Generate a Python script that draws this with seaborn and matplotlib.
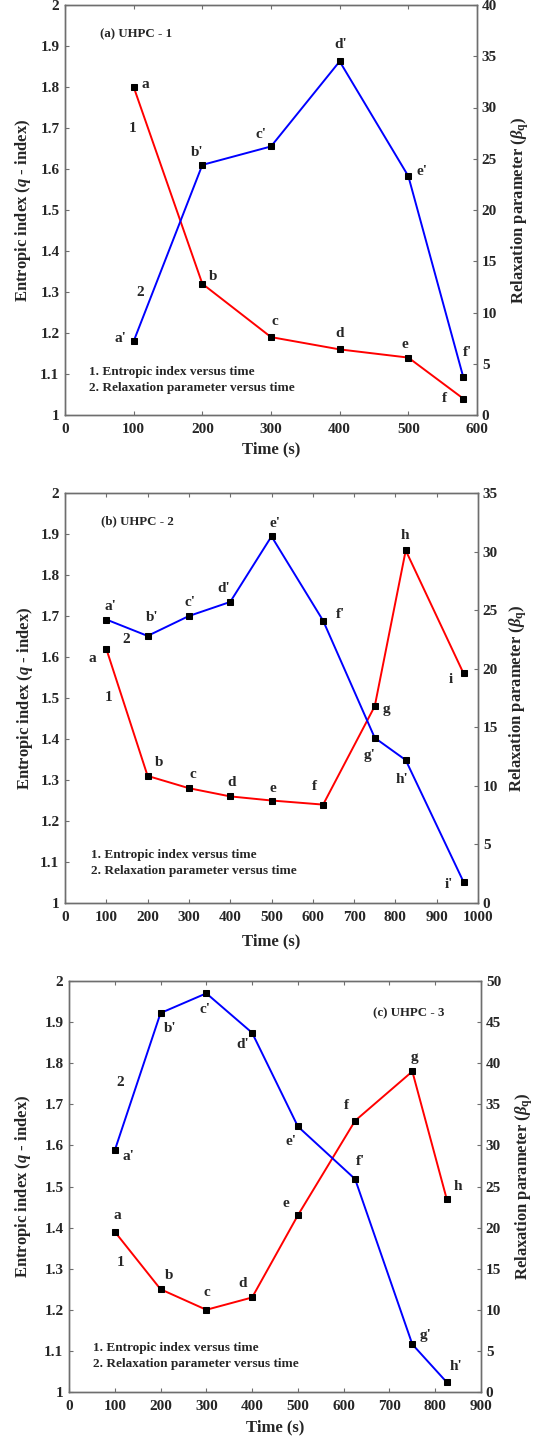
import matplotlib
matplotlib.use("Agg")
import matplotlib.pyplot as plt
import seaborn as sns
from matplotlib.ticker import FuncFormatter, MultipleLocator

# ---------------- data ----------------
# Panel (a) UHPC - 1
a_time = [100, 200, 300, 400, 500, 580]
a_q = [1.80, 1.32, 1.19, 1.16, 1.14, 1.04]
a_beta = [7.2, 24.4, 26.2, 34.5, 23.3, 3.7]
a_q_labels = ["a", "b", "c", "d", "e", "f"]
a_beta_labels = ["a'", "b'", "c'", "d'", "e'", "f'"]

# Panel (b) UHPC - 2
b_time = [100, 200, 300, 400, 500, 625, 750, 825, 965]
b_q = [1.62, 1.31, 1.28, 1.26, 1.25, 1.24, 1.48, 1.86, 1.56]
b_beta = [24.2, 22.8, 24.5, 25.7, 31.3, 24.1, 14.1, 12.2, 1.8]
b_q_labels = ["a", "b", "c", "d", "e", "f", "g", "h", "i"]
b_beta_labels = ["a'", "b'", "c'", "d'", "e'", "f'", "g'", "h'", "i'"]

# Panel (c) UHPC - 3
c_time = [100, 200, 300, 400, 500, 625, 750, 825]
c_q = [1.39, 1.25, 1.20, 1.23, 1.43, 1.66, 1.78, 1.47]
c_beta = [29.4, 46.1, 48.5, 43.7, 32.3, 25.9, 5.8, 1.2]
c_q_labels = ["a", "b", "c", "d", "e", "f", "g", "h"]
c_beta_labels = ["a'", "b'", "c'", "d'", "e'", "f'", "g'", "h'"]

titles = ["(a) UHPC - 1", "(b) UHPC - 2", "(c) UHPC - 3"]
legend_lines = ["1. Entropic index versus time", "2. Relaxation parameter versus time"]

# ---------------- layout / style (not data) ----------------
a_q_off = [(12, 3), (11, 7), (4, 16), (0, 16), (-3, 13), (-19, 0)]
a_b_off = [(-13, 3), (-5, 12), (-10, 12), (1, 17), (14, 5), (4, 25)]
b_q_off = [(-14, -10), (11, 13), (4, 14), (1, 14), (1, 12), (-9, 18), (12, -3), (-1, 15), (-13, -6)]
b_b_off = [(4, 13), (5, 18), (1, 14), (-6, 13), (3, 13), (17, 6), (-5, -18), (-4, -19), (-15, -3)]
c_q_off = [(3, 16), (8, 14), (1, 17), (-9, 14), (-12, 12), (-9, 15), (2, 14), (11, 12)]
c_b_off = [(14, -6), (10, -15), (-1, -16), (-9, -12), (-7, -15), (5, 18), (13, 9), (9, 16)]

sns.set_theme(style="white")
plt.rcParams["font.family"] = ["Liberation Serif", "DejaVu Serif"]
plt.rcParams["font.weight"] = "bold"
plt.rcParams["mathtext.fontset"] = "custom"
plt.rcParams["mathtext.rm"] = "Liberation Serif:bold"
plt.rcParams["mathtext.it"] = "Liberation Serif:italic:bold"
plt.rcParams["mathtext.bf"] = "Liberation Serif:bold"

SPINE = "#6e6e6e"
PX = 72.0 / 100.0  # points per pixel at dpi 100
TICK_FS = 11
ANN_FS = 11

fig = plt.figure(figsize=(5.39, 14.41), dpi=100)
W, H = 539.0, 1441.0


def make_axes(l, r, t, b):
    return fig.add_axes([l / W, 1 - b / H, (r - l) / W, (b - t) / H])


def fmt(v, _):
    return "%g" % v


def panel(rect, time, q, beta, qlab, blab, qoff, boff, xmax, bmax, title, title_xy,
          n1_xy, n2_xy, leg_xy, ylab_x, rlab_x, xlab_y):
    ax = make_axes(*rect)
    ax2 = ax.twinx()
    sns.lineplot(x=time, y=q, ax=ax, color="red", lw=1.4, marker="s", ms=5,
                 mfc="black", mec="black", sort=False, zorder=3)
    sns.lineplot(x=time, y=beta, ax=ax2, color="blue", lw=1.4, marker="s", ms=5,
                 mfc="black", mec="black", sort=False, zorder=3)
    ax.set_xlim(0, xmax)
    ax.set_ylim(1, 2)
    ax2.set_ylim(0, bmax)
    ax.xaxis.set_major_locator(MultipleLocator(100))
    ax.yaxis.set_major_locator(MultipleLocator(0.1))
    ax2.yaxis.set_major_locator(MultipleLocator(5))
    ax.yaxis.set_major_formatter(FuncFormatter(fmt))
    ax2.yaxis.set_major_formatter(FuncFormatter(fmt))
    for a_ in (ax, ax2):
        for s in a_.spines.values():
            s.set_color(SPINE)
            s.set_linewidth(1.0)
    ax.tick_params(axis="both", direction="in", length=3, width=0.8, color=SPINE,
                   labelsize=TICK_FS, top=True, bottom=True, left=True, right=False)
    ax.tick_params(axis="y", pad=4)
    ax.tick_params(axis="x", pad=6)
    ax2.tick_params(axis="y", direction="in", length=3, width=0.8, color=SPINE,
                    labelsize=TICK_FS, pad=3.5)
    for lbl in ax.get_xticklabels() + ax.get_yticklabels() + ax2.get_yticklabels():
        lbl.set_fontweight("bold")
    ax.set_xlabel("Time (s)", fontsize=12, fontweight="bold")
    ax.set_ylabel(r"Entropic index ($q$ - index)", fontsize=12, fontweight="bold")
    ax2.set_ylabel(r"Relaxation parameter ($\beta_\mathrm{q}$)", fontsize=12, fontweight="bold")
    ax.xaxis.set_label_coords(0.5, xlab_y)
    ax.xaxis.label.set_va("center")
    ax.yaxis.set_label_coords(ylab_x, 0.5)
    ax.yaxis.label.set_va("center")
    ax2.yaxis.set_label_coords(rlab_x, 0.5)
    ax2.yaxis.label.set_va("center")
    for x, y, t, (dx, dy) in zip(time, q, qlab, qoff):
        ax.annotate(t, (x, y), xytext=(dx * PX, dy * PX), textcoords="offset points",
                    ha="center", va="center", fontsize=ANN_FS, fontweight="bold")
    for x, y, t, (dx, dy) in zip(time, beta, blab, boff):
        ax2.annotate(t, (x, y), xytext=(dx * PX, dy * PX), textcoords="offset points",
                     ha="center", va="center", fontsize=ANN_FS, fontweight="bold")
    ax.text(*n1_xy, "1", ha="center", va="center", fontsize=ANN_FS, fontweight="bold")
    ax.text(*n2_xy, "2", ha="center", va="center", fontsize=ANN_FS, fontweight="bold")
    ax.text(*title_xy, title, ha="left", va="center", fontsize=9.3, fontweight="bold")
    ax.text(leg_xy[0], leg_xy[1], legend_lines[0], ha="left", va="center", fontsize=9.5,
            fontweight="bold")
    ax.text(leg_xy[0], leg_xy[2], legend_lines[1], ha="left", va="center", fontsize=9.5,
            fontweight="bold")
    return ax, ax2


panel((65, 477, 5, 415), a_time, a_q, a_beta, a_q_labels, a_beta_labels, a_q_off, a_b_off,
      600, 40, titles[0], (51, 1.929), (99, 1.70), (109, 1.30), (35, 1.106, 1.067),
      -0.103, 1.104, -0.085)
panel((65, 478, 493, 903), b_time, b_q, b_beta, b_q_labels, b_beta_labels, b_q_off, b_b_off,
      1000, 35, titles[1], (87, 1.930), (106, 1.502), (148, 1.642), (62, 1.116, 1.079),
      -0.098, 1.098, -0.093)
panel((69, 481, 981, 1392), c_time, c_q, c_beta, c_q_labels, c_beta_labels, c_q_off, c_b_off,
      900, 50, titles[2], (663, 1.921), (113, 1.314), (111, 1.752), (52, 1.108, 1.069),
      -0.111, 1.106, -0.085)

fig.savefig("out.png", dpi=100)
